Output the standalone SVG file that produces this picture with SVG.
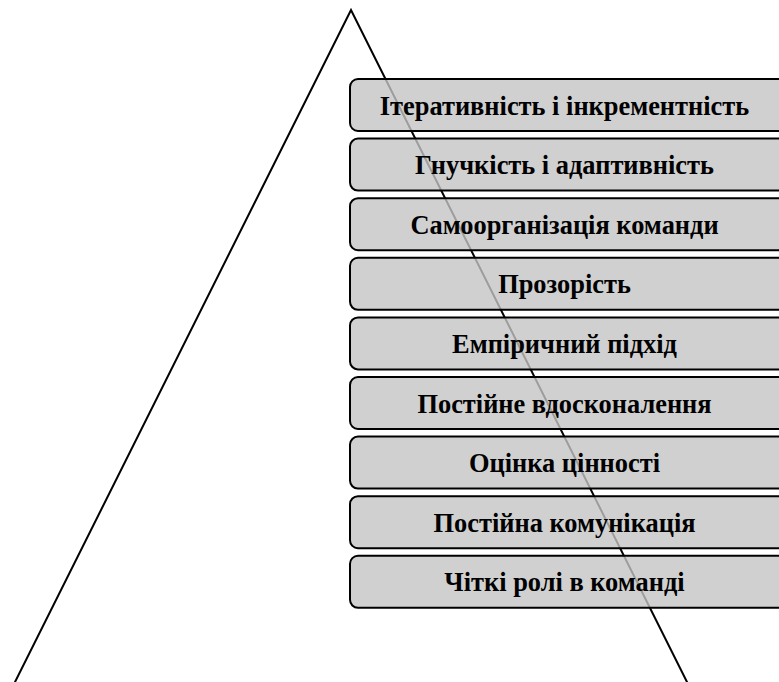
<svg xmlns="http://www.w3.org/2000/svg" width="779" height="682" viewBox="0 0 779 682">
<style>
.edge{fill:none;stroke:#000;stroke-width:2;stroke-linecap:round;stroke-linejoin:miter}
.box{fill:#c4c4c4;fill-opacity:0.8;stroke:#000;stroke-width:2}
.lbl{font-family:"Liberation Serif","Times New Roman",serif;font-weight:bold;font-size:26.4px;fill:#000;text-anchor:middle}
</style>
<rect width="779" height="682" fill="#fff"/>
<g id="connectors">
<path class="edge" d="M14,684 L351,10 L688,684"/>
</g>
<g id="n1"><rect class="box" x="350" y="79" width="440" height="52" rx="8"/><text class="lbl" transform="translate(564.5,114.5) scale(1,1.04)">Ітеративність і інкрементність</text></g>
<g id="n2"><rect class="box" x="350" y="138.6" width="440" height="52" rx="8"/><text class="lbl" transform="translate(564.5,174.1) scale(1,1.04)">Гнучкість і адаптивність</text></g>
<g id="n3"><rect class="box" x="350" y="198.2" width="440" height="52" rx="8"/><text class="lbl" transform="translate(564.5,233.7) scale(1,1.04)">Самоорганізація команди</text></g>
<g id="n4"><rect class="box" x="350" y="257.8" width="440" height="52" rx="8"/><text class="lbl" transform="translate(564.5,293.3) scale(1,1.04)">Прозорість</text></g>
<g id="n5"><rect class="box" x="350" y="317.4" width="440" height="52" rx="8"/><text class="lbl" transform="translate(564.5,352.9) scale(1,1.04)">Емпіричний підхід</text></g>
<g id="n6"><rect class="box" x="350" y="377" width="440" height="52" rx="8"/><text class="lbl" transform="translate(564.5,412.5) scale(1,1.04)">Постійне вдосконалення</text></g>
<g id="n7"><rect class="box" x="350" y="436.6" width="440" height="52" rx="8"/><text class="lbl" transform="translate(564.5,472.1) scale(1,1.04)">Оцінка цінності</text></g>
<g id="n8"><rect class="box" x="350" y="496.2" width="440" height="52" rx="8"/><text class="lbl" transform="translate(564.5,531.7) scale(1,1.04)">Постійна комунікація</text></g>
<g id="n9"><rect class="box" x="350" y="555.8" width="440" height="52" rx="8"/><text class="lbl" transform="translate(564.5,591.3) scale(1,1.04)">Чіткі ролі в команді</text></g>
</svg>
